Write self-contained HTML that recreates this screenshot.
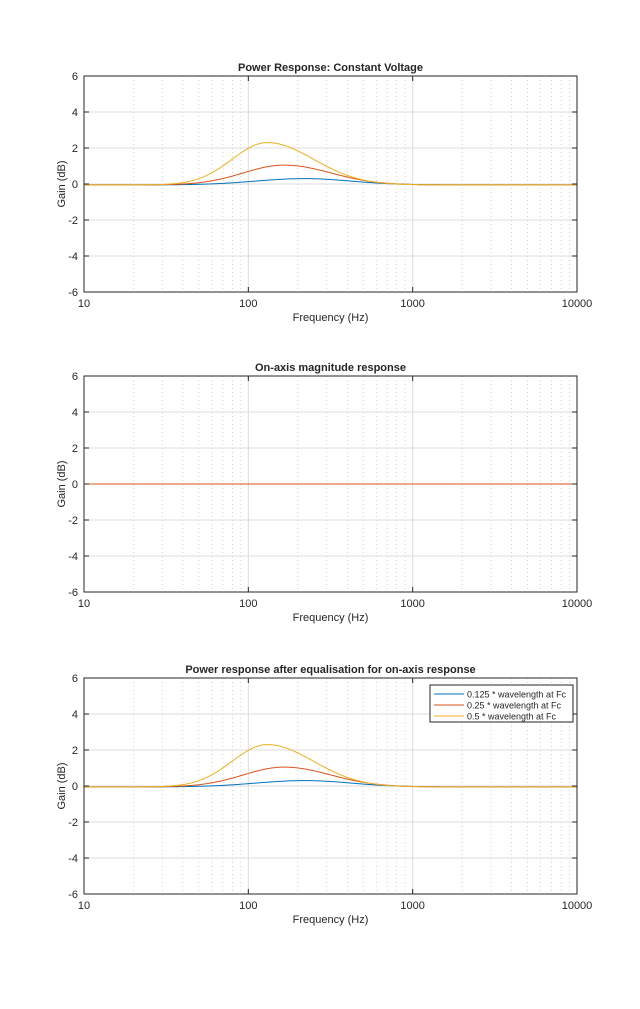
<!DOCTYPE html>
<html><head><meta charset="utf-8"><style>
body{margin:0;background:#fff}
svg text{font-family:"Liberation Sans",Arial,sans-serif;fill:#262626}
</style></head><body>
<svg id="s" width="640" height="1004" xmlns="http://www.w3.org/2000/svg"></svg>
<script>
const S=document.getElementById('s');
let h='';
const X0=84,X1=577,DEC=(X1-X0)/3;
const fx=f=>X0+(Math.log10(f)-1)*DEC;
function curve(f,A,fc,wl,wr){const d=Math.log10(f)-Math.log10(fc);const w=d<0?wl:wr;return A*Math.exp(-(d/w)*(d/w))-0.05*(1-Math.exp(-(d/w)*(d/w)));}
function path(top,fn,col){const sc=18,zero=top+108;let p='';for(let i=0;i<=400;i++){const f=Math.pow(10,1+3*i/400);const x=fx(f),y=zero-fn(f)*sc;p+=(i?'L':'M')+x.toFixed(2)+' '+y.toFixed(2);}return `<path d="${p}" fill="none" stroke="${col}" stroke-width="1"/>`;}
function axes(top,title,series,legend){
 const bot=top+216;
 // minor vertical
 for(let d=1;d<=1000;d*=10)for(let k=2;k<=9;k++){const x=fx(d*10*k/1);if(x<X1)h+=`<line x1="${x}" y1="${top}" x2="${x}" y2="${bot}" stroke="#bdbdbd" stroke-width="0.7" stroke-dasharray="1,3"/>`;}
 for(const f of [100,1000]){const x=fx(f);h+=`<line x1="${x}" y1="${top}" x2="${x}" y2="${bot}" stroke="#dcdcdc" stroke-width="1"/>`;}
 for(let v=-4;v<=4;v+=2){const y=top+108-v*18;h+=`<line x1="${X0}" y1="${y}" x2="${X1}" y2="${y}" stroke="#dcdcdc" stroke-width="1"/>`;}
 h+=series;
 h+=`<rect x="${X0}" y="${top}" width="${X1-X0}" height="216" fill="none" stroke="#262626" stroke-width="1"/>`;
 for(let v=-6;v<=6;v+=2){const y=top+108-v*18;h+=`<line x1="${X0}" y1="${y}" x2="${X0+5}" y2="${y}" stroke="#262626"/><line x1="${X1}" y1="${y}" x2="${X1-5}" y2="${y}" stroke="#262626"/><text x="${X0-6}" y="${y+4}" font-size="11" text-anchor="end">${v}</text>`;}
 for(const f of [10,100,1000,10000]){const x=fx(f);h+=`<line x1="${x}" y1="${bot}" x2="${x}" y2="${bot-5}" stroke="#262626"/><line x1="${x}" y1="${top}" x2="${x}" y2="${top+5}" stroke="#262626"/><text x="${x}" y="${bot+15}" font-size="11" text-anchor="middle">${f}</text>`;}
 h+=`<text x="${(X0+X1)/2}" y="${bot+29}" font-size="11" text-anchor="middle">Frequency (Hz)</text>`;
 h+=`<text transform="translate(65,${top+108}) rotate(-90)" font-size="11" text-anchor="middle">Gain (dB)</text>`;
 h+=`<text x="${(X0+X1)/2}" y="${top-5}" font-size="11" font-weight="bold" text-anchor="middle" fill="#000">${title}</text>`;
 if(legend){h+=`<rect x="430" y="685" width="143" height="37" fill="#fff" stroke="#262626" stroke-width="1"/>`;
  const L=[['#0072BD','0.125 * wavelength at Fc'],['#D95319','0.25 * wavelength at Fc'],['#EDB120','0.5 * wavelength at Fc']];
  L.forEach((l,i)=>{const y=694+i*11;h+=`<line x1="434" y1="${y}" x2="464" y2="${y}" stroke="${l[0]}"/><text x="467" y="${y+3.5}" font-size="9">${l[1]}</text>`;});}
}
const blue=f=>curve(f,0.3,220,0.42,0.4),ora=f=>curve(f,1.05,165,0.35,0.4),yel=f=>curve(f,2.3,130,0.3,0.4);
function three(top){return path(top,blue,'#0072BD')+path(top,ora,'#D95319')+path(top,yel,'#EDB120');}
axes(76,'Power Response: Constant Voltage',three(76),false);
axes(376,'On-axis magnitude response',`<line x1="${X0}" y1="484" x2="${X1}" y2="484" stroke="#0072BD"/><line x1="${X0}" y1="484" x2="${X1}" y2="484" stroke="#D95319"/>`,false);
axes(678,'Power response after equalisation for on-axis response',three(678),true);
S.innerHTML=h;
</script>
</body></html>
